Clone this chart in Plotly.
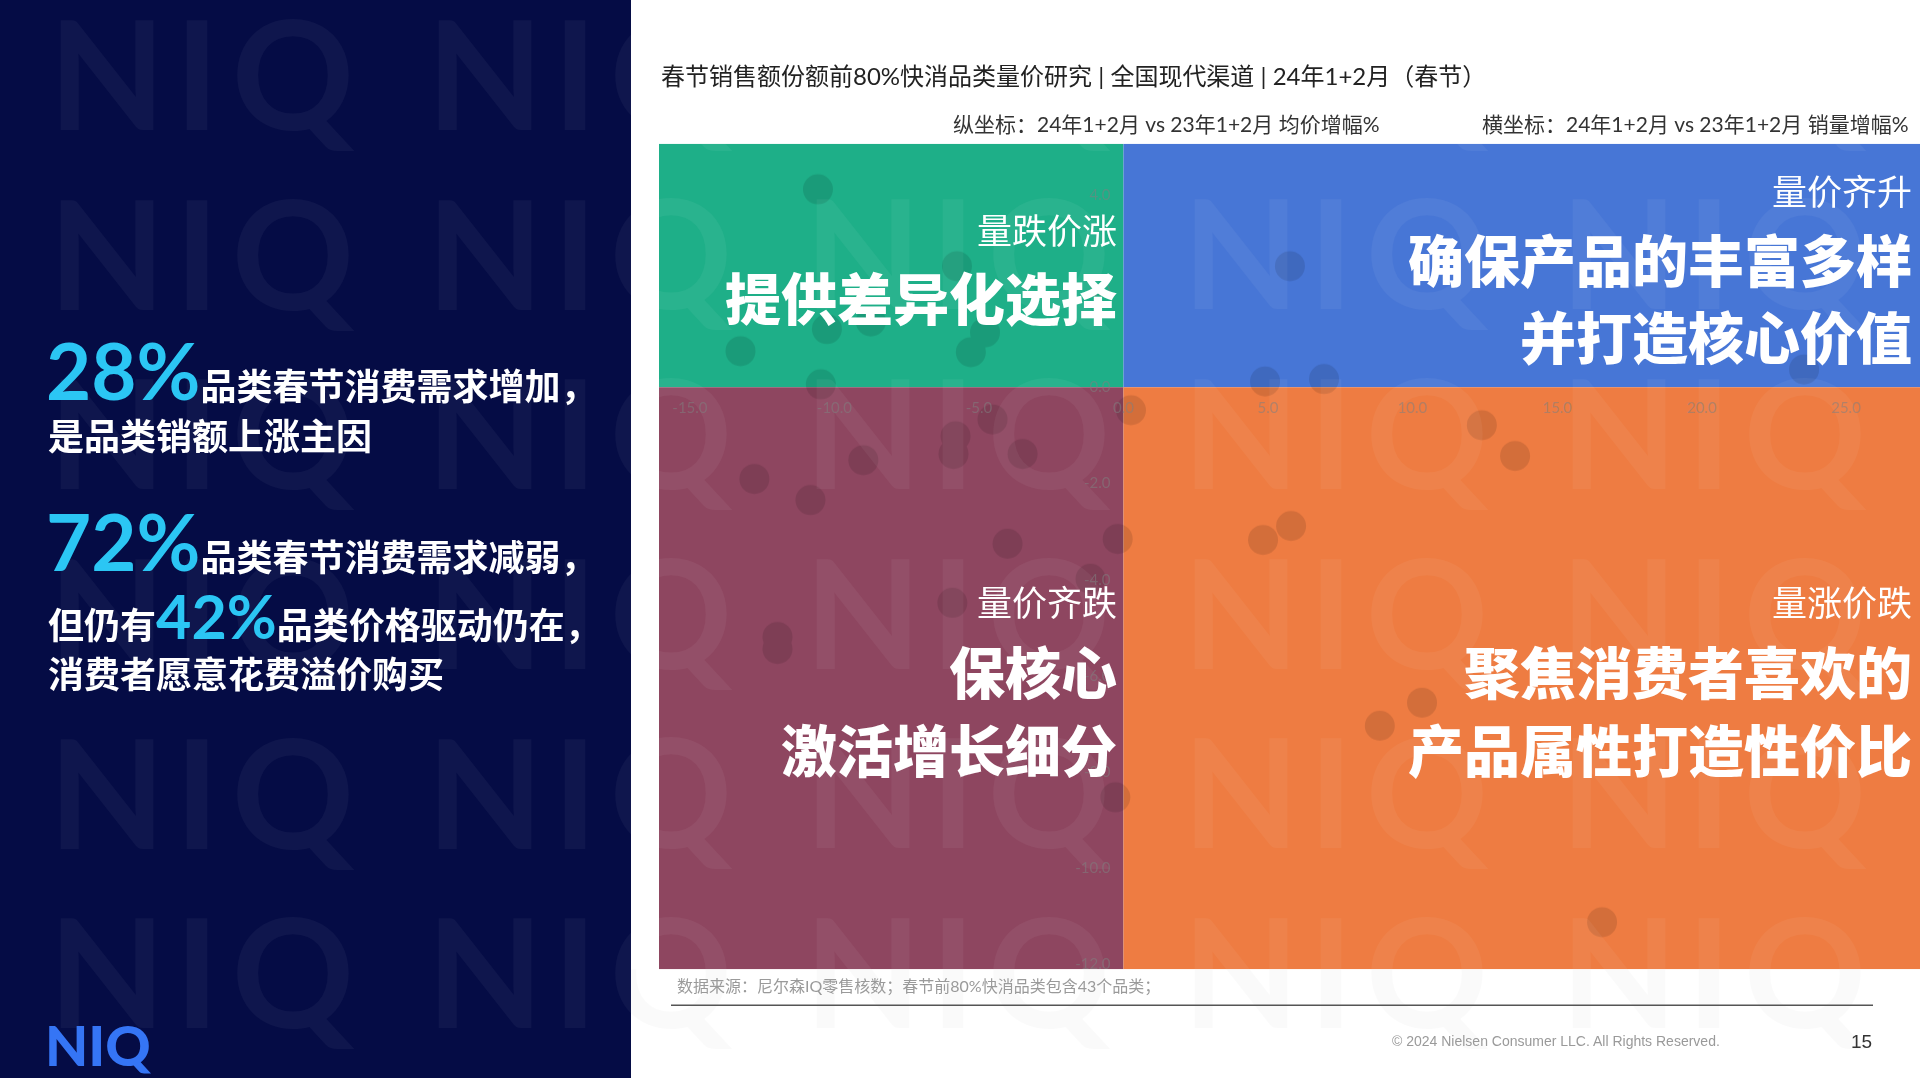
import plotly.graph_objects as go

W, H = 1920, 1080

# ---------------- data ----------------
# x: 24年1+2月 vs 23年1+2月 销量增幅%, y: 均价增幅%
vol_growth = [
    -10.57, -13.25, -10.26, -8.74, -4.79, -5.28, -5.76, -10.47,          # 量跌价涨
    5.76, 4.90, 6.94, 23.55,                                             # 量价齐升
    0.26, 12.40, 13.55, 4.83, 5.80, 10.33, 8.87, 16.56,                  # 量涨价跌
    -4.53, -5.81, -5.88, -3.49, -9.00, -12.77, -10.83, -4.01, -0.20,
    -1.14, -5.92, -11.97, -11.97, -0.28,                                 # 量价齐跌
]
price_growth = [
    4.12, 0.75, 1.21, 1.37, 1.14, 0.73, 2.52, 0.06,
    2.52, 0.12, 0.17, 0.37,
    -0.48, -0.79, -1.43, -3.18, -2.89, -6.57, -7.05, -11.14,
    -0.67, -1.02, -1.39, -1.39, -1.52, -1.91, -2.35, -3.26, -3.16,
    -3.99, -4.49, -5.20, -5.45, -8.54,
]

X_RANGE = [-16.07, 27.56]
Y_RANGE = [-12.12, 5.07]
X_TICKS = [-15, -10, -5, 0, 5, 10, 15, 20, 25]
Y_TICKS = [4, 2, 0, -2, -4, -6, -8, -10, -12]

quadrant_colors = {"ul": "#1EAF88", "ur": "#4776D6", "ll": "#8E4660", "lr": "#EE7C42"}

TITLE = "春节销售额份额前80%快消品类量价研究 | 全国现代渠道 | 24年1+2月（春节）"
Y_LABEL = "纵坐标：24年1+2月 vs 23年1+2月 均价增幅%"
X_LABEL = "横坐标：24年1+2月 vs 23年1+2月 销量增幅%"
SOURCE = "数据来源：尼尔森IQ零售核数；春节前80%快消品类包含43个品类；"
COPYRIGHT = "© 2024 Nielsen Consumer LLC. All Rights Reserved."
PAGE = "15"

# ---------------- layout geometry (pixels) ----------------
PL, PR, PT, PB = 659, 1920, 144, 971
NAVY_R = 631

def px(x):
    return x / W

def py(y):
    return 1 - y / H

xd = [px(PL), px(PR)]
yd = [py(PB), py(PT)]
xaxis_pos = yd[0] + (0 - Y_RANGE[0]) / (Y_RANGE[1] - Y_RANGE[0]) * (yd[1] - yd[0])
yaxis_pos = xd[0] + (0 - X_RANGE[0]) / (X_RANGE[1] - X_RANGE[0]) * (xd[1] - xd[0])

CJK = "Noto Sans CJK SC"
LAT = "Lato, 'Noto Sans CJK SC'"

fig = go.Figure()

# watermark grid (decorative): letters N, I, Q placed separately
wm_x, wm_y, wm_t = [], [], []
for tile_left in [57 + 378 * k for k in range(6)]:
    for cy in [92 + 180 * j for j in range(6)]:
        for letter, off in (("N", 50), ("I", 140), ("Q", 236)):
            wm_x.append(tile_left + off)
            wm_y.append(cy)
            wm_t.append(letter)

# dots
fig.add_trace(go.Scatter(
    x=vol_growth, y=price_growth, mode="markers",
    marker=dict(size=30, color="black", line=dict(width=0)),
    opacity=0.11, hoverinfo="skip", showlegend=False,
    xaxis="x", yaxis="y"))

WM_FONT = dict(family="Lato", size=152, weight=700)

# chart watermark
fig.add_trace(go.Scatter(
    x=wm_x, y=wm_y, mode="text", text=wm_t, textposition="middle center",
    textfont=dict(WM_FONT, color="rgba(255,255,255,0.05)"),
    hoverinfo="skip", showlegend=False, xaxis="x2", yaxis="y2"))

# navy watermark
fig.add_trace(go.Scatter(
    x=wm_x, y=wm_y, mode="text", text=wm_t, textposition="middle center",
    textfont=dict(WM_FONT, color="rgba(255,255,255,0.045)"),
    hoverinfo="skip", showlegend=False, xaxis="x3", yaxis="y3"))

# faint watermark on the white area
fig.add_trace(go.Scatter(
    x=wm_x, y=wm_y, mode="text", text=wm_t, textposition="middle center",
    textfont=dict(WM_FONT, color="rgba(0,0,0,0.018)"),
    hoverinfo="skip", showlegend=False, xaxis="x4", yaxis="y4"))

shapes = [
    dict(type="rect", xref="paper", yref="paper", x0=0, x1=px(NAVY_R), y0=0, y1=1,
         fillcolor="#050C45", line=dict(width=0), layer="below"),
    dict(type="rect", xref="x", yref="y", x0=X_RANGE[0], x1=0, y0=0, y1=Y_RANGE[1],
         fillcolor=quadrant_colors["ul"], line=dict(width=0), layer="below"),
    dict(type="rect", xref="x", yref="y", x0=0, x1=X_RANGE[1], y0=0, y1=Y_RANGE[1],
         fillcolor=quadrant_colors["ur"], line=dict(width=0), layer="below"),
    dict(type="rect", xref="x", yref="y", x0=X_RANGE[0], x1=0, y0=Y_RANGE[0], y1=0,
         fillcolor=quadrant_colors["ll"], line=dict(width=0), layer="below"),
    dict(type="rect", xref="x", yref="y", x0=0, x1=X_RANGE[1], y0=Y_RANGE[0], y1=0,
         fillcolor=quadrant_colors["lr"], line=dict(width=0), layer="below"),
    dict(type="line", xref="paper", yref="paper", x0=px(671), x1=px(1873), y0=py(1007), y1=py(1007),
         line=dict(color="#555555", width=1.5)),
]

ann = []

def add_text(text, x, y, size, color, xanchor="left", family=CJK, weight=400, yanchor="middle"):
    ann.append(dict(text=text, x=px(x), y=py(y), xref="paper", yref="paper",
                    xanchor=xanchor, yanchor=yanchor, showarrow=False,
                    font=dict(family=family, size=size, color=color, weight=weight)))

# header
add_text(TITLE, 659, 76, 24, "#222222", family=LAT)
add_text(Y_LABEL, 1381, 124, 21, "#333333", xanchor="right", family=LAT)
add_text(X_LABEL, 1910, 124, 21, "#333333", xanchor="right", family=LAT)

# quadrant texts
quad_text = [
    ("量跌价涨", 1119, 229, "sub"),
    ("提供差异化选择", 1119, 296, "main"),
    ("量价齐升", 1914, 190, "sub"),
    ("确保产品的丰富多样", 1914, 258, "main"),
    ("并打造核心价值", 1914, 335, "main"),
    ("量价齐跌", 1119, 602, "sub"),
    ("保核心", 1119, 671, "main"),
    ("激活增长细分", 1119, 749, "main"),
    ("量涨价跌", 1914, 602, "sub"),
    ("聚焦消费者喜欢的", 1914, 671, "main"),
    ("产品属性打造性价比", 1914, 749, "main"),
]
for t, x, y, kind in quad_text:
    if kind == "sub":
        add_text(t, x, y, 35, "white", xanchor="right")
    else:
        add_text(t, x, y, 56, "white", xanchor="right", weight=900)

# left panel
CYAN = "#2BC6F4"
def big(t, s):
    return f'<span style="font-size:{s}px;color:{CYAN};font-family:Lato">{t}</span>'

add_text(big("28%", 78) + "品类春节消费需求增加，", 44, 371, 36, "white", weight=700)
add_text("是品类销额上涨主因", 46, 435, 36, "white", weight=700)
add_text(big("72%", 78) + "品类春节消费需求减弱，", 44, 542, 36, "white", weight=700)
add_text("但仍有" + big("42%", 61) + "品类价格驱动仍在，", 46, 617, 36, "white", weight=700)
add_text("消费者愿意花费溢价购买", 46, 673, 36, "white", weight=700)

# NIQ logo
add_text("NIQ", 43, 1046, 56, "#3575F5", family="Lato", weight=900)

# footer
add_text(SOURCE, 675, 988, 16, "#9A9A9A", family=LAT)
add_text(COPYRIGHT, 1390, 1043, 14, "#9A9A9A", family="Liberation Sans")
add_text(PAGE, 1861, 1043, 19, "#333333", xanchor="center", family="Liberation Sans")

tickfont = dict(family="Lato", size=15, color="rgba(128,128,128,0.55)")

fig.update_layout(
    width=W, height=H, margin=dict(l=0, r=0, t=0, b=0),
    paper_bgcolor="white", plot_bgcolor="rgba(0,0,0,0)",
    showlegend=False, shapes=shapes, annotations=ann,
    xaxis=dict(domain=xd, range=X_RANGE, anchor="free", position=xaxis_pos,
               tickmode="array", tickvals=X_TICKS, ticktext=[f"{v:.1f}" for v in X_TICKS],
               ticks="outside", ticklen=7, tickcolor="rgba(0,0,0,0)",
               showgrid=False, zeroline=False, showline=False, tickfont=tickfont, fixedrange=True),
    yaxis=dict(domain=yd, range=Y_RANGE, anchor="free", position=yaxis_pos,
               tickmode="array", tickvals=Y_TICKS, ticktext=[f"{v:.1f}" for v in Y_TICKS],
               ticks="outside", ticklen=10, tickcolor="rgba(0,0,0,0)",
               showgrid=False, zeroline=False, showline=False, tickfont=tickfont, fixedrange=True),
    xaxis2=dict(overlaying="x", range=[PL, PR], visible=False, fixedrange=True),
    yaxis2=dict(overlaying="y", range=[PB, PT], visible=False, fixedrange=True),
    xaxis3=dict(domain=[0, px(NAVY_R)], range=[0, NAVY_R], anchor="y3", visible=False, fixedrange=True),
    yaxis3=dict(domain=[0, 1], range=[H, 0], anchor="x3", visible=False, fixedrange=True),
    xaxis4=dict(domain=[px(NAVY_R), 1], range=[NAVY_R, W], anchor="y4", visible=False, fixedrange=True),
    yaxis4=dict(domain=[0, py(PB)], range=[H, PB], anchor="x4", visible=False, fixedrange=True),
)

fig.write_html("out.html", config={"displayModeBar": False},
               post_script="document.body.style.margin='0';document.body.style.overflow='hidden';")
